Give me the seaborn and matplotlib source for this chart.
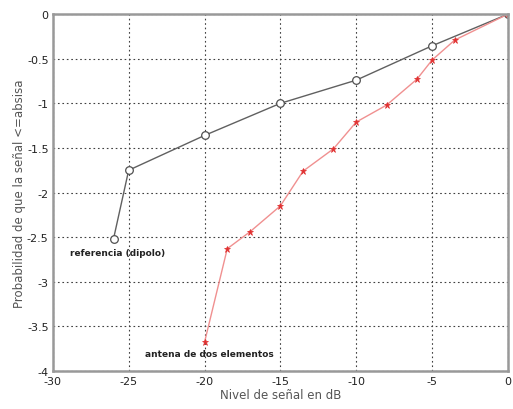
import matplotlib
matplotlib.use("Agg")
import matplotlib.pyplot as plt
import seaborn as sns
import pandas as pd

ref_x = [-26, -25, -20, -15, -10, -5, 0]
ref_y = [-2.52, -1.75, -1.36, -1.0, -0.74, -0.355, 0.0]

ant_x = [-20, -18.5, -17, -15, -13.5, -11.5, -10, -8, -6, -5, -3.5, 0]
ant_y = [-3.68, -2.63, -2.44, -2.15, -1.76, -1.51, -1.21, -1.02, -0.73, -0.515, -0.29, 0.0]

xticks = [-30, -25, -20, -15, -10, -5, 0]
yticks = [0, -0.5, -1, -1.5, -2, -2.5, -3, -3.5, -4]
ytick_labels = ["0", "-0.5", "-1", "-1.5", "-2", "-2.5", "-3", "-3.5", "-4"]

sns.set_theme(style="white")
plt.rcParams['font.family'] = ['DejaVu Sans']

fig = plt.figure(figsize=(5.13, 4.10), dpi=100)
ax = fig.add_axes([0.103, 0.093, 0.887, 0.870])

df_ref = pd.DataFrame({"x": ref_x, "y": ref_y})
df_ant = pd.DataFrame({"x": ant_x, "y": ant_y})

sns.lineplot(data=df_ref, x="x", y="y", ax=ax, color="#606060", lw=1.0,
             marker="o", markersize=5.5, markerfacecolor="white",
             markeredgecolor="#505050", markeredgewidth=0.9, sort=False)
sns.lineplot(data=df_ant, x="x", y="y", ax=ax, color="#f09090", lw=1.0,
             marker="*", markersize=5, markerfacecolor="#e03030",
             markeredgecolor="#e03030", markeredgewidth=0.5, sort=False)

ax.set_xlim(-30, 0)
ax.set_ylim(-4, 0)
ax.set_xticks(xticks)
ax.set_xticklabels([str(t) for t in xticks], fontsize=8)
ax.set_yticks(yticks)
ax.set_yticklabels(ytick_labels, fontsize=8)
ax.grid(True, color="#404040", linestyle=(0, (1.5, 2.5)), linewidth=0.8)
ax.tick_params(axis="x", length=3, direction="in", pad=4, colors="#222222")
ax.tick_params(axis="y", length=3, direction="in", pad=3, colors="#222222")

for s in ax.spines.values():
    s.set_color("#999999")
    s.set_linewidth(1.8)

ax.set_xlabel("Nivel de señal en dB", fontsize=8.5, color="#555555", labelpad=1)
ax.set_ylabel("Probabilidad de que la señal <=absisa", fontsize=8.5, color="#555555", labelpad=1)

ax.text(-28.9, -2.67, "referencia (dipolo)", fontsize=6.5, fontweight="bold",
        color="#222222", va="center", ha="left")
ax.text(-23.9, -3.81, "antena de dos elementos", fontsize=6.5, fontweight="bold",
        color="#222222", va="center", ha="left")

fig.savefig("out.png", dpi=100)
